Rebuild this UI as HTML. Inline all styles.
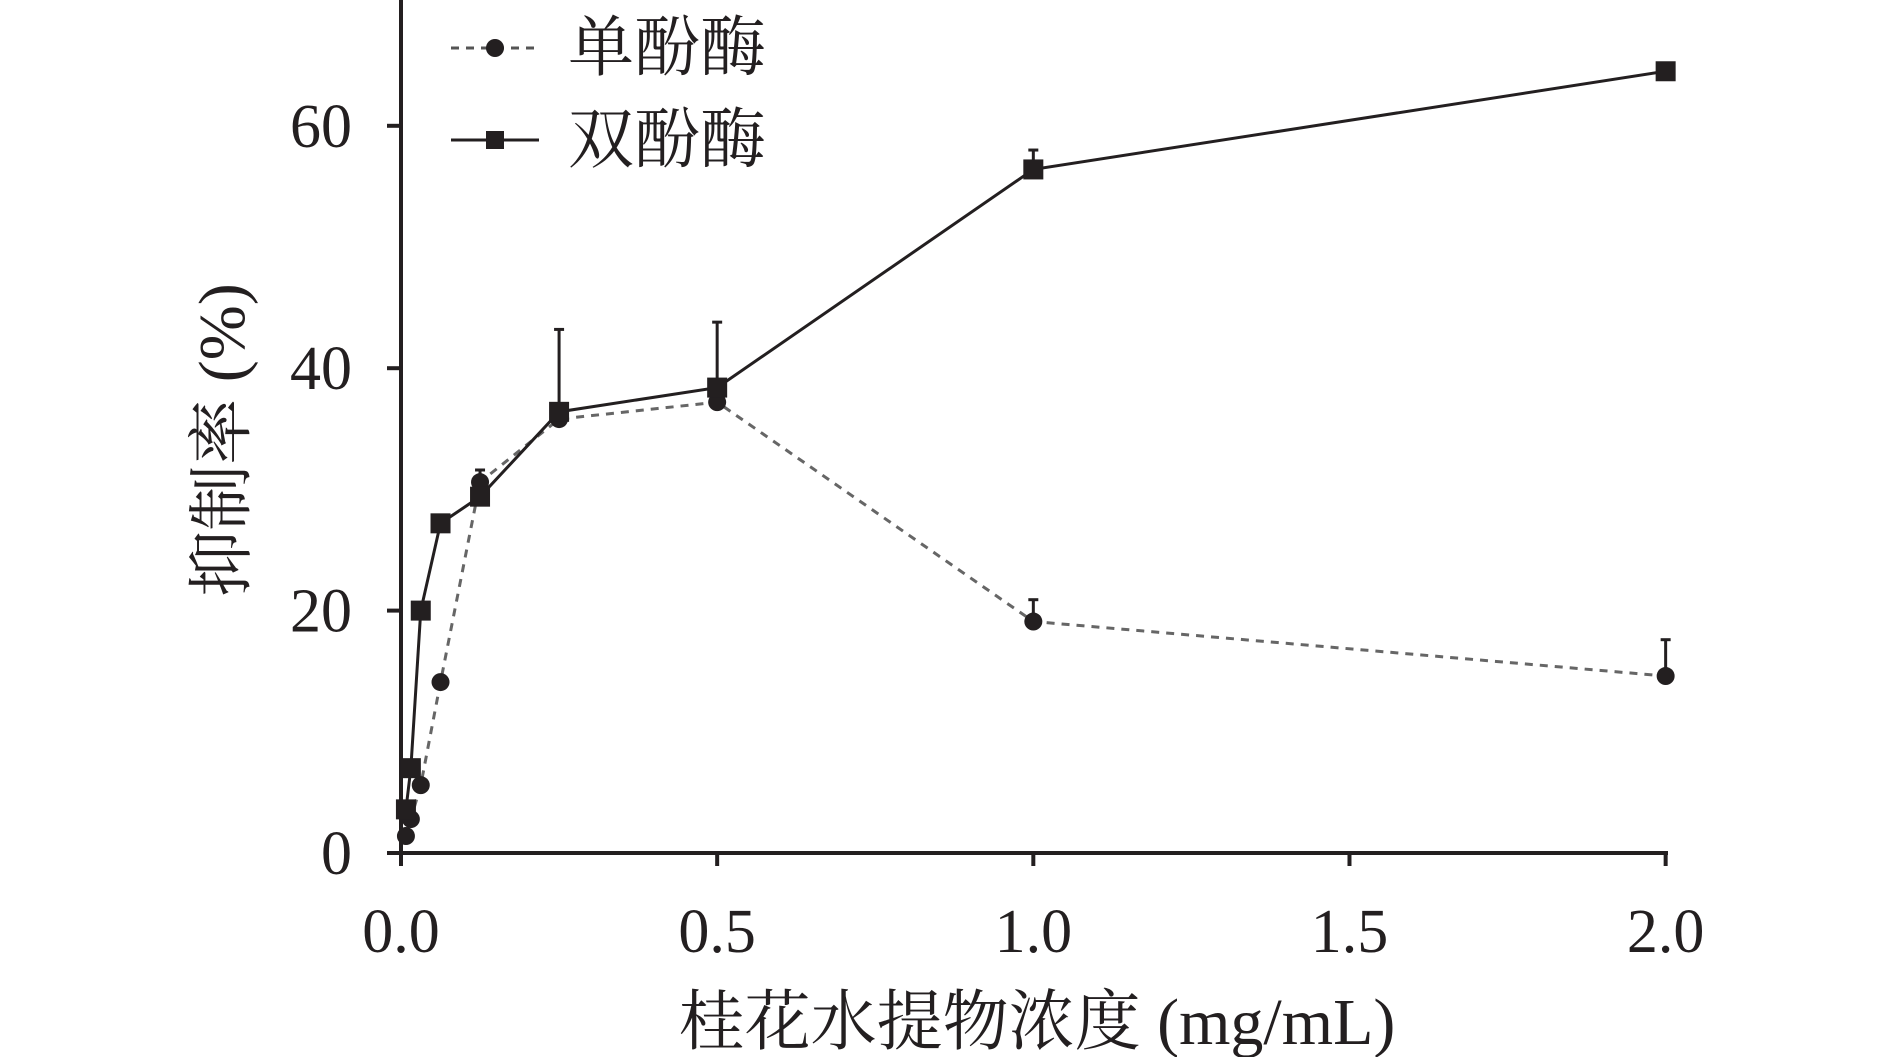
<!DOCTYPE html>
<html><head><meta charset="utf-8"><style>
html,body{margin:0;padding:0;background:#fff;}
svg{display:block;}
text{font-family:"Liberation Serif","Noto Serif CJK SC","Noto Sans CJK SC",serif;fill:#231f20;}
</style></head><body>
<svg id="chart" width="1890" height="1057" viewBox="0 0 1890 1057" xmlns="http://www.w3.org/2000/svg">
<g id="axes"></g>
<g id="series"></g>
<g>
  <g>
    <line x1="451" y1="48" x2="539" y2="48" stroke="#555" stroke-width="3" stroke-dasharray="8,7"/>
    <circle cx="495" cy="48" r="9" fill="#231f20"/>
    <text x="568" y="70" font-size="66">单酚酶</text>
  </g>
  <g>
    <line x1="451" y1="140" x2="539" y2="140" stroke="#231f20" stroke-width="3"/>
    <rect x="486" y="131" width="18" height="18" fill="#231f20"/>
    <text x="568" y="162" font-size="66">双酚酶</text>
  </g>
</g>
<text transform="translate(244,440) rotate(-90)" text-anchor="middle" font-size="66">抑制率 (%)</text>
<text x="1037" y="1044" text-anchor="middle" font-size="66">桂花水提物浓度 (mg/mL)</text>
<script>
const xValues=[0.0078,0.0156,0.03125,0.0625,0.125,0.25,0.5,1,2];
const monoValues=[1.4,2.8,5.6,14.1,30.6,35.8,37.2,19.1,14.6];
const monoErr=[0,0,0,0,1.0,0,0,1.8,3.0];
const diValues=[3.6,7.0,20.0,27.2,29.4,36.4,38.4,56.4,64.5];
const diErr=[0,0,0,0,0,6.8,5.4,1.6,0];
const xTicks=[0,0.5,1,1.5,2];
const xTickLabels=["0.0","0.5","1.0","1.5","2.0"];
const yTicks=[0,20,40,60];
const yTickLabels=["0","20","40","60"];
const NS="http://www.w3.org/2000/svg";
const X=v=>401+v*635.5*0.995;
const Y=v=>853-v*12.12;
function mk(tag,attrs,parent){const e=document.createElementNS(NS,tag);for(const k in attrs)e.setAttribute(k,attrs[k]);parent.appendChild(e);return e;}
const ax=document.getElementById('axes');
let l=mk('line',{x1:401,y1:0,x2:401,y2:866,stroke:'#231f20','stroke-width':4},ax);


l=mk('line',{x1:387,y1:853,x2:1668,y2:853,stroke:'#231f20','stroke-width':4},ax);


xTicks.forEach((t,i)=>{
  const tk=mk('line',{x1:X(t),y1:853,x2:X(t),y2:866,stroke:'#231f20','stroke-width':4},ax);
  
  
  const tx=mk('text',{x:X(t),y:952,'text-anchor':'middle','font-size':62},ax);
  tx.textContent=xTickLabels[i];
  
  
});
yTicks.forEach((t,i)=>{
  const tk=mk('line',{x1:387,y1:Y(t),x2:401,y2:Y(t),stroke:'#231f20','stroke-width':4},ax);
  
  
  const tx=mk('text',{x:352,y:Y(t)+21,'text-anchor':'end','font-size':62},ax);
  tx.textContent=yTickLabels[i];
  
  
});
const sg=document.getElementById('series');
function series(vals,errs,dash,name,marker,color){
  const pts=xValues.map((x,i)=>X(x)+','+Y(vals[i])).join(' ');
  const pl=mk('polyline',{points:pts,fill:'none',stroke:color,'stroke-width':3},sg);
  if(dash)pl.setAttribute('stroke-dasharray',dash);
  
  
  xValues.forEach((x,i)=>{
    if(errs[i]>0){
      const e1=mk('line',{x1:X(x),y1:Y(vals[i]),x2:X(x),y2:Y(vals[i]+errs[i]),stroke:'#231f20','stroke-width':3},sg);
      
      
      const e2=mk('line',{x1:X(x)-5,y1:Y(vals[i]+errs[i]),x2:X(x)+5,y2:Y(vals[i]+errs[i]),stroke:'#231f20','stroke-width':3},sg);
      
      
    }
    let m;
    if(marker==='circle') m=mk('circle',{cx:X(x),cy:Y(vals[i]),r:9,fill:'#231f20'},sg);
    else m=mk('rect',{x:X(x)-10,y:Y(vals[i])-10,width:20,height:20,fill:'#231f20'},sg);
    
    
  });
}
series(monoValues,monoErr,'8,7','mono','circle','#666');
series(diValues,diErr,null,'di','square','#231f20');
</script>
</svg>
</body></html>
